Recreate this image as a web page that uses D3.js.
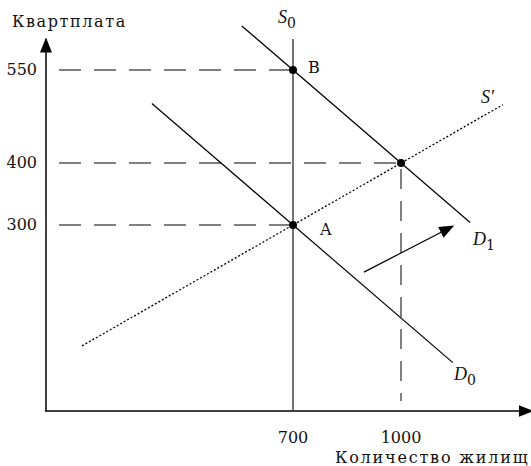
<!DOCTYPE html>
<html>
<head>
<meta charset="utf-8">
<script src="https://cdn.jsdelivr.net/npm/d3@7.9.0/dist/d3.min.js"></script>
<style>
  body { margin: 0; background: #fff; }
  svg text { font-family: "DejaVu Serif", "Liberation Serif", serif; fill: #111; }
</style>
</head>
<body>
<div id="chart"></div>
<script>
// Data (quantity of housing, rent)
const priceTicks = [550, 400, 300];
const quantityTicks = [700, 1000];
const supplyS0 = [[700, 600], [700, 0]];
const demandD0 = [[308, 496], [1144, 78]];
const demandD1 = [[558, 621], [1192, 304]];
const supplyS1 = [[114, 105], [1283, 494]];
const shiftArrow = [[897, 224], [1144, 298]];
const points = [
  { q: 700, p: 550, label: 'B', dx: 15, dy: -2 },
  { q: 1000, p: 400, label: '', dx: 0, dy: 0 },
  { q: 700, p: 300, label: 'A', dx: 27, dy: 5 }
];
const guides = [
  { q: 700, p: 550 },
  { q: 1000, p: 400 },
  { q: 700, p: 300 }
];

const width = 531, height = 466;
const x = d3.scaleLinear().domain([700, 1000]).range([293, 401]);
const y = d3.scaleLinear().domain([0, 550]).range([411, 70]);
const originX = 46, originY = 411;

const svg = d3.select('#chart').append('svg')
  .attr('width', width)
  .attr('height', height);

const defs = svg.append('defs');
defs.append('marker')
  .attr('id', 'arrow')
  .attr('viewBox', '0 0 10 10')
  .attr('refX', 9).attr('refY', 5)
  .attr('markerWidth', 15).attr('markerHeight', 15)
  .attr('markerUnits', 'userSpaceOnUse')
  .attr('orient', 'auto')
  .append('path').attr('d', 'M0,1 L10,5 L0,9 Z').attr('fill', '#000');

// Axes
svg.append('line')
  .attr('x1', originX).attr('y1', originY)
  .attr('x2', originX).attr('y2', 39)
  .attr('stroke', '#000').attr('stroke-width', 1.5)
  .attr('marker-end', 'url(#arrow)');
svg.append('line')
  .attr('x1', originX - 1).attr('y1', originY)
  .attr('x2', 532).attr('y2', originY)
  .attr('stroke', '#000').attr('stroke-width', 1.5)
  .attr('marker-end', 'url(#arrow)');

// Dashed guides
guides.forEach(g => {
  svg.append('line')
    .attr('x1', 59).attr('y1', y(g.p))
    .attr('x2', x(g.q)).attr('y2', y(g.p))
    .attr('stroke', '#000').attr('stroke-width', 1.2)
    .attr('stroke-dasharray', '22,13');
});
svg.append('line')
  .attr('x1', x(1000)).attr('y1', y(400) + 6)
  .attr('x2', x(1000)).attr('y2', 401)
  .attr('stroke', '#555').attr('stroke-width', 1.5)
  .attr('stroke-dasharray', '20,12');

const line = d3.line().x(d => x(d[0])).y(d => y(d[1]));

svg.append('path').attr('d', line(supplyS0))
  .attr('stroke', '#444').attr('stroke-width', 1.5).attr('fill', 'none');
svg.append('path').attr('d', line(demandD0))
  .attr('stroke', '#000').attr('stroke-width', 1.2).attr('fill', 'none');
svg.append('path').attr('d', line(demandD1))
  .attr('stroke', '#000').attr('stroke-width', 1.2).attr('fill', 'none');
svg.append('path').attr('d', line(supplyS1))
  .attr('stroke', '#000').attr('stroke-width', 1.3).attr('fill', 'none')
  .attr('stroke-dasharray', '2,2');
svg.append('path').attr('d', line(shiftArrow))
  .attr('stroke', '#000').attr('stroke-width', 1.2).attr('fill', 'none')
  .attr('marker-end', 'url(#arrow)');

// Points
svg.selectAll('circle.pt')
  .data(points)
  .enter()
  .append('circle')
  .attr('class', 'pt')
  .attr('cx', d => x(d.q))
  .attr('cy', d => y(d.p))
  .attr('r', 4)
  .attr('fill', '#000');

svg.selectAll('text.pt')
  .data(points.filter(d => d.label))
  .enter()
  .append('text')
  .attr('class', 'pt')
  .attr('x', d => x(d.q) + d.dx)
  .attr('y', d => y(d.p) + d.dy)
  .attr('text-anchor', 'start')
  .attr('dominant-baseline', 'middle')
  .style('font-size', '16px')
  .text(d => d.label);

// Tick labels
svg.selectAll('text.ytick')
  .data(priceTicks)
  .enter()
  .append('text')
  .attr('class', 'ytick')
  .attr('x', 37)
  .attr('y', d => y(d))
  .attr('text-anchor', 'end')
  .attr('dominant-baseline', 'middle')
  .style('font-size', '16px')
  .text(d => d);

svg.selectAll('text.xtick')
  .data(quantityTicks)
  .enter()
  .append('text')
  .attr('class', 'xtick')
  .attr('x', d => x(d))
  .attr('y', 443)
  .attr('text-anchor', 'middle')
  .style('font-size', '16px')
  .text(d => d);

// Axis titles
svg.append('text')
  .attr('x', 12).attr('y', 27)
  .style('font-size', '16px')
  .style('letter-spacing', '1.6px')
  .text('Квартплата');
svg.append('text')
  .attr('x', 335).attr('y', 463)
  .style('font-size', '16px')
  .style('letter-spacing', '1.8px')
  .text('Количество жилищ');

// Curve labels
function curveLabel(px, py, main, sub) {
  const t = svg.append('text').attr('x', px).attr('y', py).style('font-size', '18px');
  t.append('tspan').style('font-style', 'italic')
    .style('font-family', '"Liberation Serif", serif').text(main);
  if (sub) {
    t.append('tspan').attr('dy', 5).style('font-size', '14px').text(sub);
  }
}
curveLabel(278, 23, 'S', '0');
curveLabel(481, 103, "S'", '');
curveLabel(473, 245, 'D', '1');
curveLabel(454, 380, 'D', '0');
</script>
</body>
</html>
